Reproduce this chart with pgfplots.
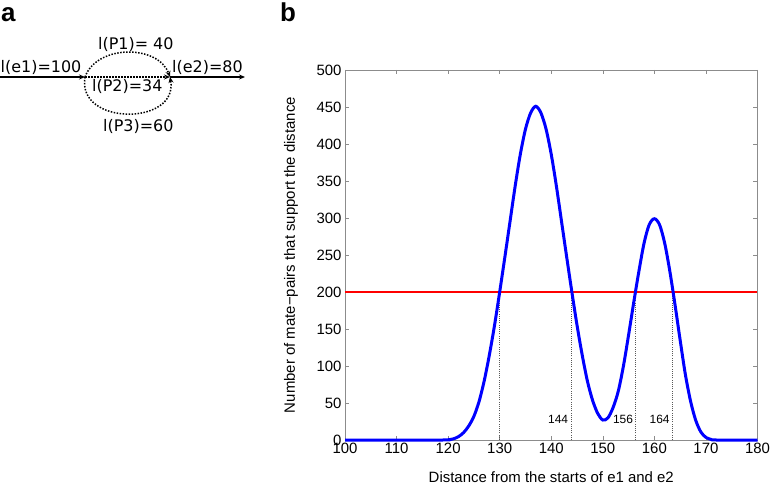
\documentclass[border=0pt]{standalone}
\usepackage{fontspec}
\setmainfont{Liberation Sans}
\newfontfamily\dejavu{DejaVu Sans}
\usepackage{pgfplots}
\pgfplotsset{compat=1.18}
\usetikzlibrary{arrows.meta}

% number of mate-pairs supporting each distance
\pgfplotstableread{
x y
100 0
119 0
120 0.3
121 1.5
122 4.5
123 10
124 19
125 32
126 52
127 80
128 115
129 155
130 200
131 247
132 295
133 343
134 386
135 420
136 442
137 451
138 442
139 420
140 386
141 343
142 295
143 247
144 200
145 155
146 115
147 80
148 54
149 36
150 27
151 30
152 44
153 66
154 100
155 142
156 186
157 228
158 266
159 291
160 299
161 291
162 266
163 228
164 183
165 135
166 89
167 53
168 27
169 11
170 3.5
171 0.8
172 0
180 0
}\support

\begin{document}
\begin{tikzpicture}
  \useasboundingbox (0bp,0bp) rectangle (770bp,488bp);

  % panel a
  \node[anchor=base west, inner sep=0, font=\fontsize{26}{28}\selectfont\bfseries] at (1bp,466bp) {a};
  \node[anchor=base west, inner sep=0, font=\fontsize{26}{28}\selectfont\bfseries] at (280bp,466bp) {b};
  \begin{scope}[x=1bp, y=1bp, font=\dejavu\fontsize{16}{18}\selectfont, >={Stealth[length=6bp,width=5bp]}]
    \draw[line width=1.2bp, ->] (0,411) -- (85,411);
    \draw[line width=1.2bp, ->] (170,411) -- (245,411);
    \begin{scope}[line width=1.5bp, dash pattern=on 1.5bp off 1.5bp]
      \draw[->] (85,411) -- (170,411);
      \draw[->] (85,411) to[out=70,in=110,looseness=1.05] (170,411);
      \draw[->] (85,411) to[out=-100,in=-80,looseness=1.5] (170,411);
    \end{scope}
    \node[anchor=base west, inner sep=0] at (0.5,415.5) {l(e1)=100};
    \node[anchor=base west, inner sep=0] at (98,438) {l(P1)= 40};
    \node[anchor=base west, inner sep=0] at (172,415.5) {l(e2)=80};
    \node[anchor=base west, inner sep=0] at (92,396.5) {l(P2)=34};
    \node[anchor=base west, inner sep=0] at (103,357) {l(P3)=60};
  \end{scope}

  % panel b
  \begin{axis}[
    at={(345bp,48bp)}, anchor=south west,
    width=412.5bp, height=370bp, scale only axis,
    xmin=100, xmax=180, ymin=0, ymax=500,
    xtick={100,110,...,180},
    ytick={0,50,...,500},
    clip=false,
    axis line style={black!45},
    every tick/.style={black!45},
    major tick length=4bp,
    tick label style={font=\fontsize{15}{17}\selectfont},
    /pgf/number format/assume math mode=true,
    label style={font=\fontsize{15}{17}\selectfont},
    xlabel={Distance from the starts of e1 and e2},
    ylabel={Number of mate−pairs that support the distance},
    x label style={at={(axis description cs:0.5,-0.1)}, anchor=center},
    y label style={at={(axis description cs:-0.131,0.5)}, anchor=center},
  ]
    \addplot[black!65, line width=0.9bp, dash pattern=on 1bp off 1.2bp] coordinates {(130,0) (130,200)};
    \addplot[black!65, line width=0.9bp, dash pattern=on 1bp off 1.2bp] coordinates {(144,0) (144,200)};
    \addplot[black!65, line width=0.9bp, dash pattern=on 1bp off 1.2bp] coordinates {(156.4,0) (156.4,200)};
    \addplot[black!65, line width=0.9bp, dash pattern=on 1bp off 1.2bp] coordinates {(163.6,0) (163.6,200)};
    \addplot[red, line width=2bp] coordinates {(100,200) (180,200)};
    \addplot[blue, line width=3bp, smooth] table {\support};
    \node[anchor=east, inner sep=0, font=\fontsize{12}{14}\selectfont] at (axis cs:143.3,28) {144};
    \node[anchor=east, inner sep=0, font=\fontsize{12}{14}\selectfont] at (axis cs:155.9,28) {156};
    \node[anchor=east, inner sep=0, font=\fontsize{12}{14}\selectfont] at (axis cs:163.0,28) {164};
  \end{axis}
\end{tikzpicture}
\end{document}
